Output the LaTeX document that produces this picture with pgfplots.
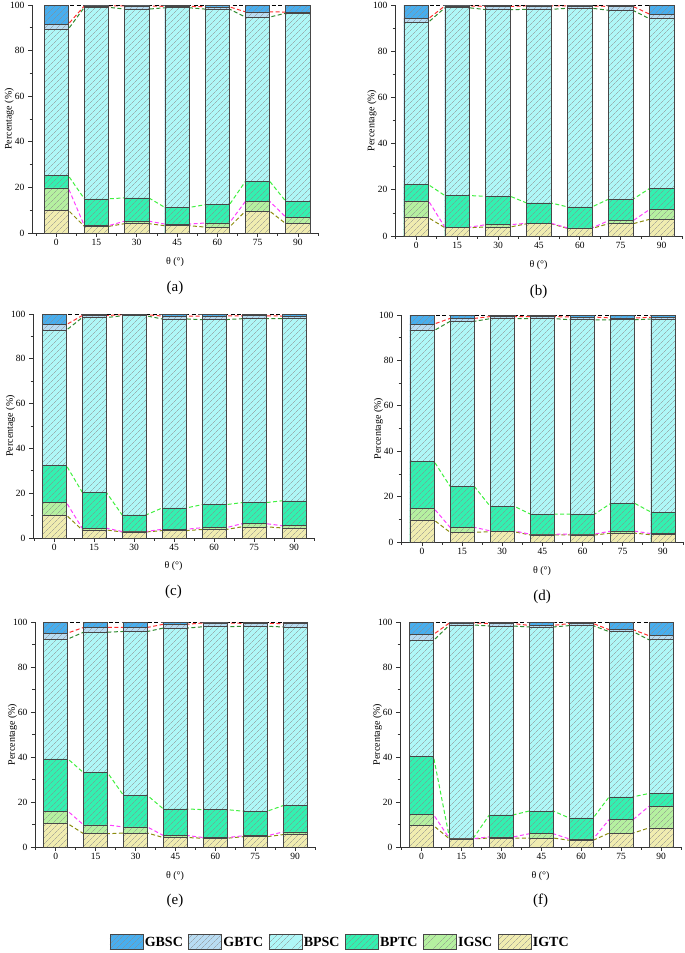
\documentclass[border=0pt]{standalone}
\usepackage{fontspec}
\setmainfont{Liberation Serif}
\usepackage{pgfplots}
\pgfplotsset{compat=1.18}
\usepackage{pgfplotstable}
\usetikzlibrary{patterns,patterns.meta}

\definecolor{cGBSC}{HTML}{48AEEE}
\definecolor{cGBTC}{HTML}{B8DCF2}
\definecolor{cBPSC}{HTML}{AFF7F7}
\definecolor{cBPTC}{HTML}{33F0B0}
\definecolor{cIGSC}{HTML}{B5F0A0}
\definecolor{cIGTC}{HTML}{F0ECB0}
\definecolor{lIGTC}{HTML}{8C8C10}
\definecolor{lIGSC}{HTML}{FF40FF}
\definecolor{lBPTC}{HTML}{40F040}
\definecolor{lBPSC}{HTML}{2E8B2E}
\definecolor{lGBTC}{HTML}{FF3030}

% cumulative tops: t1=IGTC, t2=+IGSC, t3=+BPTC, t4=+BPSC, t5=+GBTC, t6=+GBSC
% each category twice (s=-1 left edge, s=1 right edge) for the connectors
\pgfplotstableread{
c s t1 t2 t3 t4 t5 t6
0 -1 10.0 19.8 25.2 89.4 91.6 100
0 1 10.0 19.8 25.2 89.4 91.6 100
1 -1 2.9 3.2 15.0 99.0 99.6 100
1 1 2.9 3.2 15.0 99.0 99.6 100
2 -1 4.1 5.2 15.4 98.2 99.6 100
2 1 4.1 5.2 15.4 98.2 99.6 100
3 -1 3.2 3.9 11.2 98.8 99.4 100
3 1 3.2 3.9 11.2 98.8 99.4 100
4 -1 2.6 4.4 12.4 98.2 99.2 100
4 1 2.6 4.4 12.4 98.2 99.2 100
5 -1 9.6 13.9 22.7 94.7 97.0 100
5 1 9.6 13.9 22.7 94.7 97.0 100
6 -1 4.1 7.0 13.9 96.4 96.9 100
6 1 4.1 7.0 13.9 96.4 96.9 100
}\dataA
\pgfplotstableread{
c s t1 t2 t3 t4 t5 t6
0 -1 7.9 15.2 22.2 92.6 94.1 100
0 1 7.9 15.2 22.2 92.6 94.1 100
1 -1 3.6 3.8 17.5 98.8 99.6 100
1 1 3.6 3.8 17.5 98.8 99.6 100
2 -1 3.9 4.9 17.2 98.0 99.4 100
2 1 3.9 4.9 17.2 98.0 99.4 100
3 -1 5.3 5.5 14.3 98.1 99.6 100
3 1 5.3 5.5 14.3 98.1 99.6 100
4 -1 3.3 3.5 12.6 98.6 99.6 100
4 1 3.3 3.5 12.6 98.6 99.6 100
5 -1 5.3 6.6 15.9 97.7 99.4 100
5 1 5.3 6.6 15.9 97.7 99.4 100
6 -1 7.2 11.4 20.5 94.1 96.1 100
6 1 7.2 11.4 20.5 94.1 96.1 100
}\dataB
\pgfplotstableread{
c s t1 t2 t3 t4 t5 t6
0 -1 10.3 16.0 32.5 92.7 95.2 100
0 1 10.3 16.0 32.5 92.7 95.2 100
1 -1 3.6 4.4 20.5 98.4 99.3 100
1 1 3.6 4.4 20.5 98.4 99.3 100
2 -1 2.7 2.9 10.3 99.2 99.7 100
2 1 2.7 2.9 10.3 99.2 99.7 100
3 -1 3.3 3.9 13.4 97.8 99.1 100
3 1 3.3 3.9 13.4 97.8 99.1 100
4 -1 3.8 4.6 14.9 97.5 99.1 100
4 1 3.8 4.6 14.9 97.5 99.1 100
5 -1 5.0 6.4 15.8 97.9 99.2 100
5 1 5.0 6.4 15.8 97.9 99.2 100
6 -1 4.5 5.5 16.6 97.9 99.1 100
6 1 4.5 5.5 16.6 97.9 99.1 100
}\dataC
\pgfplotstableread{
c s t1 t2 t3 t4 t5 t6
0 -1 9.7 14.8 35.6 93.1 96.0 100
0 1 9.7 14.8 35.6 93.1 96.0 100
1 -1 4.3 6.5 24.6 97.2 98.5 100
1 1 4.3 6.5 24.6 97.2 98.5 100
2 -1 4.5 4.9 15.7 98.4 99.3 100
2 1 4.5 4.9 15.7 98.4 99.3 100
3 -1 3.1 3.4 12.3 98.4 99.3 100
3 1 3.1 3.4 12.3 98.4 99.3 100
4 -1 3.1 3.5 12.3 97.9 99.1 100
4 1 3.1 3.5 12.3 97.9 99.1 100
5 -1 3.9 4.8 17.0 97.9 98.7 100
5 1 3.9 4.8 17.0 97.9 98.7 100
6 -1 3.2 3.7 13.2 98.2 99.0 100
6 1 3.2 3.7 13.2 98.2 99.0 100
}\dataD
\pgfplotstableread{
c s t1 t2 t3 t4 t5 t6
0 -1 10.4 16.0 39.2 92.4 95.1 100
0 1 10.4 16.0 39.2 92.4 95.1 100
1 -1 5.9 9.8 33.0 95.5 97.6 100
1 1 5.9 9.8 33.0 95.5 97.6 100
2 -1 6.2 8.9 22.9 95.8 97.6 100
2 1 6.2 8.9 22.9 95.8 97.6 100
3 -1 4.2 5.1 16.9 97.3 99.0 100
3 1 4.2 5.1 16.9 97.3 99.0 100
4 -1 3.9 4.2 16.6 97.9 99.6 100
4 1 3.9 4.2 16.6 97.9 99.6 100
5 -1 4.6 5.0 15.9 98.1 99.4 100
5 1 4.6 5.0 15.9 98.1 99.4 100
6 -1 5.5 6.7 18.4 97.8 99.3 100
6 1 5.5 6.7 18.4 97.8 99.3 100
}\dataE
\pgfplotstableread{
c s t1 t2 t3 t4 t5 t6
0 -1 9.5 14.4 40.1 91.8 94.5 100
0 1 9.5 14.4 40.1 91.8 94.5 100
1 -1 3.6 3.7 4.0 98.7 99.6 100
1 1 3.6 3.7 4.0 98.7 99.6 100
2 -1 4.0 4.5 14.3 98.2 99.3 100
2 1 4.0 4.5 14.3 98.2 99.3 100
3 -1 4.0 5.9 16.0 97.8 98.5 100
3 1 4.0 5.9 16.0 97.8 98.5 100
4 -1 3.0 3.6 12.9 98.4 99.3 100
4 1 3.0 3.6 12.9 98.4 99.3 100
5 -1 6.2 12.2 22.3 95.7 96.6 100
5 1 6.2 12.2 22.3 95.7 96.6 100
6 -1 8.5 18.1 23.8 92.1 93.9 100
6 1 8.5 18.1 23.8 92.1 93.9 100
}\dataF

\pgfplotsset{
  stk/.style={ybar, bar width=0.6, bar shift=0pt, fill=#1, draw=black!72, line width=0.6pt,
    postaction={pattern={Lines[angle=45,distance=4pt,line width=0.45pt]}, pattern color=black!45},
    legend image code/.code={\draw[##1] (0pt,-7pt) rectangle (33pt,8pt);}},
  conn/.style={forget plot, no markers, color=#1, line width=1pt, dash pattern=on 4pt off 2.5pt},
  panel/.style={
    scale only axis, anchor=south west,
    xmax=6.5, ymin=0, ymax=100,
    axis x line*=bottom, axis y line*=left,
    axis line style={black!80, line width=0.8pt},
    xtick={0,...,6}, xticklabels={0,15,30,45,60,75,90},
    minor xtick={-0.5,0.5,...,6.5},
    ytick={0,20,...,100}, minor ytick={10,30,50,70,90},
    tick align=outside, tick pos=left,
    major tick length=4pt, minor tick length=2.5pt,
    tick style={black!80, line width=0.7pt},
    /pgf/number format/assume math mode=true,
    tick label style={font=\fontsize{9.5}{11}\selectfont},
    xticklabel style={yshift=1pt},
    label style={font=\fontsize{11.5}{13}\selectfont},
    ylabel={Percentage (\%)},
    xlabel={θ (°)},
    every axis y label/.style={at={(axis description cs:-0.08,0.5)}, rotate=90, anchor=center},
    every axis x label/.style={at={(axis description cs:0.5,-0.127)}, anchor=center},
  },
  plabel/.style={extra description/.code={\node[font=\fontsize{15}{18}\selectfont] at (0.5,-0.24) {#1};}},
}

\newcommand{\panelplots}[1]{%
  \addplot[conn=lIGTC] table[x expr=\thisrow{c}+0.3*\thisrow{s}, y=t1]{#1};
  \addplot[conn=lIGSC] table[x expr=\thisrow{c}+0.3*\thisrow{s}, y=t2]{#1};
  \addplot[conn=lBPTC] table[x expr=\thisrow{c}+0.3*\thisrow{s}, y=t3]{#1};
  \addplot[conn=lBPSC] table[x expr=\thisrow{c}+0.3*\thisrow{s}, y=t4]{#1};
  \addplot[conn=lGBTC] table[x expr=\thisrow{c}+0.3*\thisrow{s}, y=t5]{#1};
  \addplot[conn=black] table[x expr=\thisrow{c}+0.3*\thisrow{s}, y=t6]{#1};
  \addplot[stk=cGBSC] table[x=c, y=t6]{#1};
  \addplot[stk=cGBTC] table[x=c, y=t5]{#1};
  \addplot[stk=cBPSC] table[x=c, y=t4]{#1};
  \addplot[stk=cBPTC] table[x=c, y=t3]{#1};
  \addplot[stk=cIGSC] table[x=c, y=t2]{#1};
  \addplot[stk=cIGTC] table[x=c, y=t1]{#1};
}

\begin{document}
\begin{tikzpicture}
\path[use as bounding box] (0,0) rectangle (685pt,-953pt);
\begin{axis}[panel, at={(32pt,-233pt)}, width=286pt, height=228pt, xmin=-0.6, plabel={(a)}]
\panelplots{\dataA}
\end{axis}
\begin{axis}[panel, at={(395pt,-236pt)}, width=287pt, height=231pt, xmin=-0.52, plabel={(b)}]
\panelplots{\dataB}
\end{axis}
\begin{axis}[panel, at={(33pt,-538pt)}, width=281pt, height=224pt, xmin=-0.53, plabel={(c)}]
\panelplots{\dataC}
\end{axis}
\begin{axis}[panel, at={(401pt,-542pt)}, width=282pt, height=227pt, xmin=-0.52, plabel={(d)}]
\panelplots{\dataD}
\end{axis}
\begin{axis}[panel, at={(35pt,-847pt)}, width=280pt, height=225pt, xmin=-0.52, plabel={(e)},
  legend columns=6,
  legend style={at={(1.089,-0.422)}, anchor=center, draw=none, fill=none,
    font=\fontsize{14}{16}\selectfont\bfseries,
    nodes={inner sep=1.5pt},
    /tikz/every even column/.append style={column sep=4pt}}]
\panelplots{\dataE}
\legend{GBSC,GBTC,BPSC,BPTC,IGSC,IGTC}
\end{axis}
\begin{axis}[panel, at={(400pt,-847pt)}, width=281pt, height=225pt, xmin=-0.54, plabel={(f)}]
\panelplots{\dataF}
\end{axis}
\end{tikzpicture}
\end{document}
